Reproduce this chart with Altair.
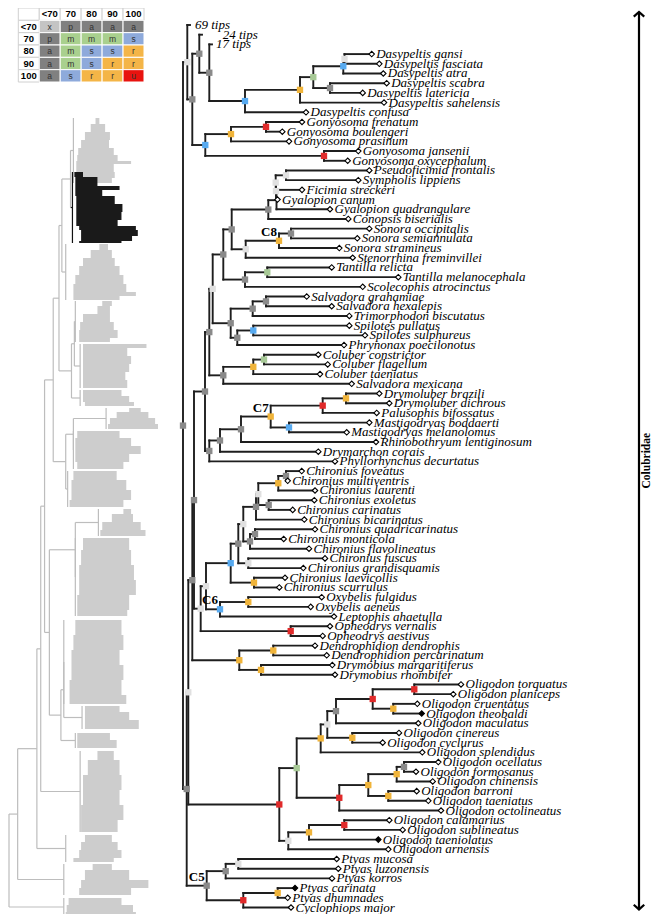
import altair as alt
import pandas as pd

# ---------------- data: main tree ----------------
tip_names = [
    "69 tips", "24 tips", "17 tips",
    "Dasypeltis gansi", "Dasypeltis fasciata", "Dasypeltis atra", "Dasypeltis scabra",
    "Dasypeltis latericia", "Dasypeltis sahelensis", "Dasypeltis confusa",
    "Gonyosoma frenatum", "Gonyosoma boulengeri", "Gonyosoma prasinum",
    "Gonyosoma jansenii", "Gonyosoma oxycephalum",
    "Pseudoficimia frontalis", "Sympholis lippiens", "Ficimia streckeri", "Gyalopion canum",
    "Gyalopion quadrangulare", "Conopsis biserialis",
    "Sonora occipitalis", "Sonora semiannulata", "Sonora stramineus", "Stenorrhina freminvillei",
    "Tantilla relicta", "Tantilla melanocephala", "Scolecophis atrocinctus",
    "Salvadora grahamiae", "Salvadora hexalepis", "Trimorphodon biscutatus",
    "Spilotes pullatus", "Spilotes sulphureus", "Phrynonax poecilonotus",
    "Coluber constrictor", "Coluber flagellum", "Coluber taeniatus", "Salvadora mexicana",
    "Drymoluber brazili", "Drymoluber dichrous", "Palusophis bifossatus",
    "Mastigodryas boddaerti", "Mastigodryas melanolomus", "Rhinobothryum lentiginosum",
    "Drymarchon corais", "Phyllorhynchus decurtatus",
    "Chironius foveatus", "Chironius multiventris", "Chironius laurenti", "Chironius exoletus",
    "Chironius carinatus", "Chironius bicarinatus", "Chironius quadricarinatus",
    "Chironius monticola", "Chironius flavolineatus", "Chironius fuscus",
    "Chironius grandisquamis", "Chironius laevicollis", "Chironius scurrulus",
    "Oxybelis fulgidus", "Oxybelis aeneus", "Leptophis ahaetulla",
    "Opheodrys vernalis", "Opheodrys aestivus",
    "Dendrophidion dendrophis", "Dendrophidion percarinatum",
    "Drymobius margaritiferus", "Drymobius rhombifer",
    "Oligodon torquatus", "Oligodon planiceps", "Oligodon cruentatus", "Oligodon theobaldi",
    "Oligodon maculatus", "Oligodon cinereus", "Oligodon cyclurus", "Oligodon splendidus",
    "Oligodon ocellatus", "Oligodon formosanus", "Oligodon chinensis", "Oligodon barroni",
    "Oligodon taeniatus", "Oligodon octolineatus",
    "Oligodon calamarius", "Oligodon sublineatus", "Oligodon taeniolatus", "Oligodon arnensis",
    "Ptyas mucosa", "Ptyas luzonensis", "Ptyas korros", "Ptyas carinata",
    "Ptyas dhumnades", "Cyclophiops major",
]
tip_parent = [
    "TOP", "B", "C",
    "G2", "G2", "G", "H", "H", "E", "D",
    "L", "L", "J", "K", "K",
    "PS", "PS", "V", "W", "X", "Rr",
    "SO", "SO", "C8", "S",
    "TA2", "TA2", "TA",
    "SA2", "SA2", "SA", "SP2", "SP2", "SP",
    "COL3", "COL3", "COL2", "COL",
    "DR2", "DR2", "DR", "MA", "MA", "N432", "N443", "N454",
    "CH6", "CH6", "CH5", "CH7", "CH7", "CH3", "CH9", "CH9", "CH8", "CH10", "CH10", "CH11", "CH11",
    "OX", "OX", "C6", "OP", "OP",
    "DD1", "DD1", "DD2", "DD2",
    "OL5", "OL5", "OL6", "OL6", "OL3", "OL7", "OL7", "OL1",
    "OL11", "OL11", "OL10", "OL12", "OL12", "OL8",
    "OLB2", "OLB2", "OLB1", "OLB",
    "PT2", "PT2", "PT1", "PT4", "PT4", "PT3",
]
tip_depth = [
    7, 19, 29,
    188.7, 196.3, 200.3, 203.7, 179.7, 201, 123,
    119, 99.3, 106, 175.3, 164.7,
    186.3, 175.3, 119, 94.5, 147, 165.3,
    186.3, 174.3, 156.3, 169.7,
    148.7, 215.3, 179.7,
    123.7, 148.7, 166.3, 166.3, 182, 161,
    135.3, 144.7, 137, 168.7,
    196.3, 206.3, 193.7, 186.3, 163.7, 193, 135.3, 152,
    118.7, 104.7, 132, 131.3, 109.7, 121.3, 132, 100.7, 126, 142, 120.3, 102, 96.3,
    138.7, 127.7, 151, 147, 139.7,
    132, 143.7, 149.3, 152,
    278, 270.3, 234.3, 238.7, 235.3, 216, 199.7, 239.3,
    255.3, 233, 249.7, 233.7, 245.3, 258,
    206.3, 219.7, 195.3, 205.3,
    153.7, 155.3, 149, 112, 104.7, 108,
]
black_tips = ["Oligodon theobaldi", "Oligodon taeniolatus", "Ptyas carinata"]
collapsed_tips = ["69 tips", "24 tips", "17 tips"]

node_name = [
    "R0", "TOP", "A", "B", "C", "D", "E", "F", "G", "G2", "H", "I", "J", "L", "K",
    "R1", "R2", "N584", "N504", "N394", "N334", "T", "N256", "Q", "Rr", "X", "W", "V", "PS",
    "S", "C8", "SO", "TA", "TA2", "U", "SA", "SA2", "SP", "SP2", "COL", "COL2", "COL3",
    "N454", "N443", "N432", "C7", "DR", "DR2", "MA",
    "N613", "N591", "CH", "CH1", "CH2", "CH3", "CH4", "CH5", "CH6", "CH7", "CH8", "CH9",
    "CH10", "CH11", "C6", "OX", "OP", "DD", "DD1", "DD2",
    "OL", "OLA", "OL1", "OL2", "OL3", "OL4", "OL5", "OL6", "OL7", "OL8", "OL9", "OL10",
    "OL11", "OL12", "OLB", "OLB1", "OLB2", "C5", "PT1", "PT2", "PT3", "PT4",
]
node_parent = [
    "", "R0", "TOP", "A", "B", "C", "D", "E", "F", "G", "F", "A", "I", "J", "I",
    "R0", "R1", "R2", "N584", "N504", "N394", "N334", "T", "N256", "Q", "Rr", "X", "W", "V",
    "Q", "S", "C8", "N256", "TA", "T", "U", "SA", "U", "SP", "N334", "COL", "COL2",
    "N394", "N454", "N443", "N432", "C7", "DR", "C7",
    "N504", "N613", "N591", "CH", "CH1", "CH2", "CH3", "CH4", "CH5", "CH4", "CH2", "CH8",
    "CH1", "CH", "N591", "C6", "N613", "N584", "DD", "DD",
    "R2", "OL", "OLA", "OL1", "OL2", "OL3", "OL4", "OL4", "OL2", "OLA", "OL8", "OL9",
    "OL10", "OL9", "OL", "OLB", "OLB1", "R1", "C5", "PT1", "C5", "PT3",
]
node_depth = [
    0, 4.3, 9.3, 16.3, 26.3, 62, 117, 130.3, 160.3, 161.5, 147, 22.3, 48, 83, 141,
    3.7, 5.3, 9.3, 11, 22, 26.3, 29.7, 40.3, 48.7, 85.3, 93.5, 93, 92.7, 103,
    62.7, 96, 108, 62, 84.3, 47.7, 69.7, 83, 54.3, 70.3, 40.3, 70.3, 81,
    26.3, 37, 58, 87.7, 139.7, 163, 106,
    17.7, 23, 47.7, 55.3, 60.3, 73, 75.3, 95.3, 103, 85.7, 67, 72,
    65.3, 71, 37, 65.3, 107.7, 56.3, 90.3, 78,
    96.3, 113.7, 137.7, 144.3, 153, 189.7, 231.3, 210.3, 169.3, 156.3, 185.3, 213.7,
    221, 205.3, 105.3, 126, 161.3, 23.7, 42.7, 55.3, 60.3, 94.7,
]
node_support = [
    "a", "x", "a", "a", "a", "s", "r", "m", "s", "x", "a", "s", "r", "u", "u",
    "a", "x", "a", "a", "a", "a", "x", "a", "a", "a", "n", "x", "x", "x",
    "x", "r", "a", "a", "m", "a", "a", "a", "a", "s", "a", "r", "m",
    "a", "a", "a", "r", "u", "r", "s",
    "x", "x", "s", "a", "x", "a", "x", "r", "a", "a", "a", "a",
    "x", "r", "s", "r", "u", "r", "r", "r",
    "u", "m", "r", "x", "a", "u", "u", "r", "r", "u", "r", "r",
    "a", "r", "x", "r", "u", "a", "a", "x", "u", "r",
]
clade_labels = ["C8", "C7", "C6", "C5"]

family_name = "Colubridae"
family_rows = [-1.35, 91.2]
family_depth = 456

# ---------------- data: support legend ----------------
legend_levels = ["<70", "70", "80", "90", "100"]
legend_codes = [
    ["x", "p", "a", "a", "a"],
    ["p", "m", "m", "m", "s"],
    ["a", "m", "s", "s", "r"],
    ["a", "m", "s", "r", "r"],
    ["a", "s", "r", "r", "u"],
]

# ---------------- data: overview tree (thumbnail) ----------------
mini_node_name = ["Ma", "Mb", "Mc", "Md", "Me", "Mf", "Mg", "Mh", "Mi", "Mj", "Mk", "Ml",
                  "Mm", "Mn", "Mo", "Mp", "Mq"]
mini_node_parent = ["Mb", "Me", "Md", "Me", "Mh", "Mg", "Mh", "Mm", "Ml", "Mk", "Ml", "Mm",
                    "Mn", "Mo", "Mp", "Mq", ""]
mini_node_depth = [67, 58, 71, 68, 55, 70, 62, 49, 72, 60, 57, 45, 40, 36, 32, 12, 3]
mini_blob_name = ["b%d" % i for i in range(1, 19)]
mini_blob_parent = ["Ma", "Ma", "Mb", "Mc", "Mc", "Md", "Mf", "Mf", "Mg", "Mi", "Mi", "Mj",
                    "Mj", "Mk", "Mn", "Mo", "Mp", "Mq"]
mini_blob_crown = [70, 69, 62, 72, 77, 77, 104, 70, 64, 96, 72, 60, 79, 72, 77, 62, 60, 60]
mini_highlight = ["b2"]
mini_clade = (["b1"] * 11 + ["b2"] * 13 + ["b3"] * 9 + ["b4"] * 7 + ["b5"] * 7 + ["b6"] * 4
              + ["b7"] * 5 + ["b8"] * 6 + ["b9"] * 5 + ["b10"] * 5 + ["b11"] * 7 + ["b12"] * 7
              + ["b13"] * 4 + ["b14"] * 3 + ["b15"] * 7 + ["b16"] * 5 + ["b17"] * 5 + ["b18"] * 4)
mini_y = [118, 124, 132, 140, 148, 155, 161, 164, 172, 178, 183,
          172, 177, 186, 190, 196, 204, 212, 220, 226, 230, 236, 241, 243,
          244, 250, 258, 266, 275, 284, 292, 296, 300,
          301, 306, 314, 322, 330, 338, 342,
          344, 348, 356, 364, 372, 380, 388,
          390, 396, 402, 406,
          408, 412, 418, 424, 429,
          431, 438, 446, 454, 462, 469,
          471, 480, 490, 500, 507,
          509, 514, 522, 530, 536,
          538, 550, 565, 580, 595, 610, 616,
          620, 635, 650, 665, 680, 695, 704,
          706, 712, 720, 729,
          733, 740, 748,
          751, 760, 775, 790, 805, 820, 832,
          835, 842, 850, 858, 862,
          864, 870, 880, 888, 895,
          898, 905, 912, 916]
mini_left = [93, 88, 82, 78, 75, 74, 73, 73, 74, 73, 73,
             71, 72, 72, 72, 73, 73, 73, 73, 76, 78, 78, 76, 74,
             97, 88, 80, 76, 72, 70, 70, 70, 68,
             100, 95, 80, 77, 76, 76, 76,
             80, 80, 80, 80, 80, 80, 80,
             80, 80, 82, 85,
             128, 115, 108, 106, 105,
             74, 72, 72, 72, 74, 74,
             70, 68, 68, 66, 66,
             122, 110, 100, 98, 98,
             80, 78, 76, 76, 74, 74, 74,
             72, 70, 68, 68, 66, 66, 66,
             82, 82, 82, 80,
             74, 74, 74,
             95, 85, 80, 80, 78, 78, 78,
             82, 78, 76, 70, 68,
             90, 82, 78, 76, 70,
             65, 63, 62, 62]
mini_right = [97, 103, 108, 107, 112, 116, 130, 112, 113, 110, 128,
              80, 95, 118, 100, 113, 121, 120, 116, 135, 137, 131, 120, 100,
              106, 110, 113, 118, 122, 125, 135, 118, 98,
              110, 108, 108, 112, 116, 108, 100,
              146, 126, 130, 128, 124, 126, 118,
              120, 128, 133, 115,
              140, 148, 155, 158, 130,
              118, 130, 140, 128, 122, 118,
              115, 125, 130, 122, 112,
              130, 132, 140, 145, 147,
              128, 130, 133, 135, 128, 126, 145,
              120, 122, 118, 122, 120, 125, 118,
              118, 128, 138, 145,
              108, 115, 110,
              112, 118, 120, 118, 122, 116, 112,
              110, 116, 120, 112, 105,
              110, 128, 148, 130, 125,
              120, 132, 135, 110]

# ---------------- styles ----------------
NODE_COLORS = {"x": "#e0e0e0", "p": "#8a8a8a", "a": "#8a8a8a", "m": "#a7c996",
               "s": "#57aaf0", "r": "#f0b43a", "u": "#e02a2a"}
LEGEND_COLORS = {"x": "#c4c4c4", "p": "#808080", "a": "#808080", "m": "#a9d08e",
                 "s": "#8eaadb", "r": "#f4b547", "u": "#e8130f"}
LABEL_PAD = {"69 tips": 5, "24 tips": 20.7, "17 tips": 4}
TIP_PAD = 4.5
SERIF = "Liberation Serif"
SANS = "Liberation Sans"

XS = alt.Scale(domain=[0, 460], range=[175, 635], nice=False, zero=False)
YS = alt.Scale(domain=[0, 91], range=[17, 899.5], nice=False, zero=False)
MX = alt.Scale(domain=[3, 158], range=[1, 150], nice=False, zero=False)
MY = alt.Scale(domain=[0, 922], range=[-8, 914], nice=False, zero=False)


def tree_layout(names, parents, depths, leaf_names, leaf_parents, leaf_depths, leaf_rows):
    kids = {}
    for n, p in list(zip(names, parents)) + list(zip(leaf_names, leaf_parents)):
        if p:
            kids.setdefault(p, []).append(n)
    dep = dict(zip(names, depths))
    dep.update(zip(leaf_names, leaf_depths))
    rows = dict(zip(leaf_names, leaf_rows))

    def place(n):
        if n not in rows:
            ys = [place(c) for c in kids[n]]
            rows[n] = (min(ys) + max(ys)) / 2
        return rows[n]

    for n in names:
        place(n)
    segs = []
    for n, p in list(zip(names, parents)) + list(zip(leaf_names, leaf_parents)):
        if p:
            segs.append(dict(name=n, x=dep[p], x2=dep[n], y=rows[n], y2=rows[n]))
    for n in names:
        ys = [rows[c] for c in kids[n]]
        segs.append(dict(name=n, x=dep[n], x2=dep[n], y=min(ys), y2=max(ys)))
    return dep, rows, pd.DataFrame(segs)


# ---------------- main tree ----------------
dep, rows, seg_df = tree_layout(node_name, node_parent, node_depth, tip_names, tip_parent,
                                tip_depth, list(range(len(tip_names))))

X = lambda f: alt.X(f, scale=XS, axis=None)
Y = lambda f: alt.Y(f, scale=YS, axis=None)

branches = alt.Chart(seg_df).mark_rule(color="#1e1e1e", strokeWidth=1.9, strokeCap="square").encode(
    x=X("x:Q"), x2="x2:Q", y=Y("y:Q"), y2="y2:Q")

node_df = pd.DataFrame([dict(x=dep[n], y=rows[n], col=NODE_COLORS[s])
                        for n, s in zip(node_name, node_support) if s in NODE_COLORS])
node_marks = alt.Chart(node_df).mark_square(size=40, opacity=1).encode(
    x=X("x:Q"), y=Y("y:Q"), color=alt.Color("col:N", scale=None))

tip_df = pd.DataFrame([dict(x=d, y=i, fill=("black" if t in black_tips else "white"))
                       for i, (t, d) in enumerate(zip(tip_names, tip_depth)) if t not in collapsed_tips])
tip_marks = alt.Chart(tip_df).mark_point(shape="diamond", size=30, filled=True, stroke="black",
                                         strokeWidth=1.1, opacity=1).encode(
    x=X("x:Q"), y=Y("y:Q"), fill=alt.Fill("fill:N", scale=None))

lab_df = pd.DataFrame([dict(name=t, x=d + LABEL_PAD.get(t, TIP_PAD), y=i)
                       for i, (t, d) in enumerate(zip(tip_names, tip_depth))])
tip_labels = alt.Chart(lab_df).mark_text(align="left", baseline="middle", font=SERIF,
                                         fontStyle="italic", fontSize=13, color="black").encode(
    x=X("x:Q"), y=Y("y:Q"), text="name:N")

clade_df = pd.DataFrame([dict(name=c, x=dep[c], y=rows[c]) for c in clade_labels])
clade_text = alt.Chart(clade_df).mark_text(align="right", baseline="middle", dx=-2, dy=-9,
                                           font=SERIF, fontWeight="bold", fontSize=13,
                                           color="black").encode(
    x=X("x:Q"), y=Y("y:Q"), text="name:N")

fam_df = pd.DataFrame([dict(x=family_depth, y=family_rows[0], y2=family_rows[1])])
fam_line = alt.Chart(fam_df).mark_rule(color="black", strokeWidth=2.2).encode(
    x=X("x:Q"), y=Y("y:Q"), y2="y2:Q")
head_top = alt.Chart(pd.DataFrame([dict(x=family_depth, y=family_rows[0])])).mark_point(
    shape="M-1,0.9L0,0L1,0.9", size=110, filled=False, stroke="black", strokeWidth=2.2,
    opacity=1).encode(x=X("x:Q"), y=Y("y:Q"))
head_bot = alt.Chart(pd.DataFrame([dict(x=family_depth, y=family_rows[1])])).mark_point(
    shape="M-1,-0.9L0,0L1,-0.9", size=110, filled=False, stroke="black", strokeWidth=2.2,
    opacity=1).encode(x=X("x:Q"), y=Y("y:Q"))
fam_text = alt.Chart(pd.DataFrame([dict(name=family_name, x=family_depth,
                                        y=sum(family_rows) / 2)])).mark_text(
    angle=270, align="center", baseline="middle", dy=7.5, font=SERIF, fontWeight="bold",
    fontSize=11.5, color="black").encode(x=X("x:Q"), y=Y("y:Q"), text="name:N")

# ---------------- legend table ----------------
cols = ["h"] + legend_levels
cells = [dict(r="h", c="h", fill="white", stroke="#d0d0d0", txt="", bold=True)]
for lv in legend_levels:
    cells.append(dict(r="h", c=lv, fill="white", stroke="#d0d0d0", txt=lv, bold=True))
for i, lv in enumerate(legend_levels):
    cells.append(dict(r=lv, c="h", fill="white", stroke="#d0d0d0", txt=lv, bold=True))
    for j, lv2 in enumerate(legend_levels):
        code = legend_codes[i][j]
        cells.append(dict(r=lv, c=lv2, fill=LEGEND_COLORS[code], stroke="white", txt=code, bold=False))
cell_df = pd.DataFrame(cells)
LX = alt.Scale(domain=cols, range=[10.3, 136], paddingInner=0, paddingOuter=0)
LY = alt.Scale(domain=cols, range=[0, 74], paddingInner=0, paddingOuter=0)
leg_rect = alt.Chart(cell_df).mark_rect(strokeWidth=1).encode(
    x=alt.X("c:O", scale=LX, axis=None), y=alt.Y("r:O", scale=LY, axis=None),
    fill=alt.Fill("fill:N", scale=None), stroke=alt.Stroke("stroke:N", scale=None))
leg_head = alt.Chart(cell_df[cell_df.bold]).mark_text(font=SANS, fontWeight="bold", fontSize=9.5,
                                                     color="black", baseline="middle").encode(
    x=alt.X("c:O", scale=LX, axis=None), y=alt.Y("r:O", scale=LY, axis=None), text="txt:N")
leg_code = alt.Chart(cell_df[~cell_df.bold]).mark_text(font=SANS, fontSize=8.5, color="#333333",
                                                      baseline="middle").encode(
    x=alt.X("c:O", scale=LX, axis=None), y=alt.Y("r:O", scale=LY, axis=None), text="txt:N")

# ---------------- overview tree ----------------
mini_pts = pd.DataFrame(dict(clade=mini_clade, y=mini_y, left=mini_left, right=mini_right))
blob_top = mini_pts.groupby("clade").y.min()
blob_bot = mini_pts.groupby("clade").y.max()
mini_pts["y2"] = mini_pts.groupby("clade").y.shift(-1)
mini_bands = mini_pts.dropna().copy()
mini_bands["col"] = ["#1a1a1a" if c in mini_highlight else "#cdcdcd" for c in mini_bands.clade]

mdep, mrows, mseg = tree_layout(mini_node_name, mini_node_parent, mini_node_depth,
                                mini_blob_name, mini_blob_parent, mini_blob_crown,
                                [(blob_top[b] + blob_bot[b]) / 2 for b in mini_blob_name])
crown = pd.DataFrame([dict(name=b, x=c, x2=c, y=blob_top[b], y2=blob_bot[b])
                      for b, c in zip(mini_blob_name, mini_blob_crown)])
mseg = pd.concat([mseg, crown], ignore_index=True)
mseg["col"] = ["#111111" if n in mini_highlight else "#bdbdbd" for n in mseg.name]

mini_area = alt.Chart(mini_bands).mark_rect(opacity=1).encode(
    y=alt.Y("y:Q", scale=MY, axis=None), y2="y2:Q",
    x=alt.X("left:Q", scale=MX, axis=None), x2="right:Q",
    color=alt.Color("col:N", scale=None))
mini_lines = alt.Chart(mseg).mark_rule(strokeWidth=1.2).encode(
    x=alt.X("x:Q", scale=MX, axis=None), x2="x2:Q", y=alt.Y("y:Q", scale=MY, axis=None),
    y2="y2:Q", color=alt.Color("col:N", scale=None))

chart = alt.layer(
    mini_area, mini_lines, leg_rect, leg_head, leg_code,
    branches, node_marks, tip_marks, tip_labels, clade_text,
    fam_line, head_top, head_bot, fam_text,
).resolve_scale(x="independent", y="independent").properties(
    width=644, height=906, padding=0, autosize=alt.AutoSizeParams(type="none")
).configure_view(stroke=None)

chart.save("out.html", embed_options={"renderer": "svg", "actions": False})
